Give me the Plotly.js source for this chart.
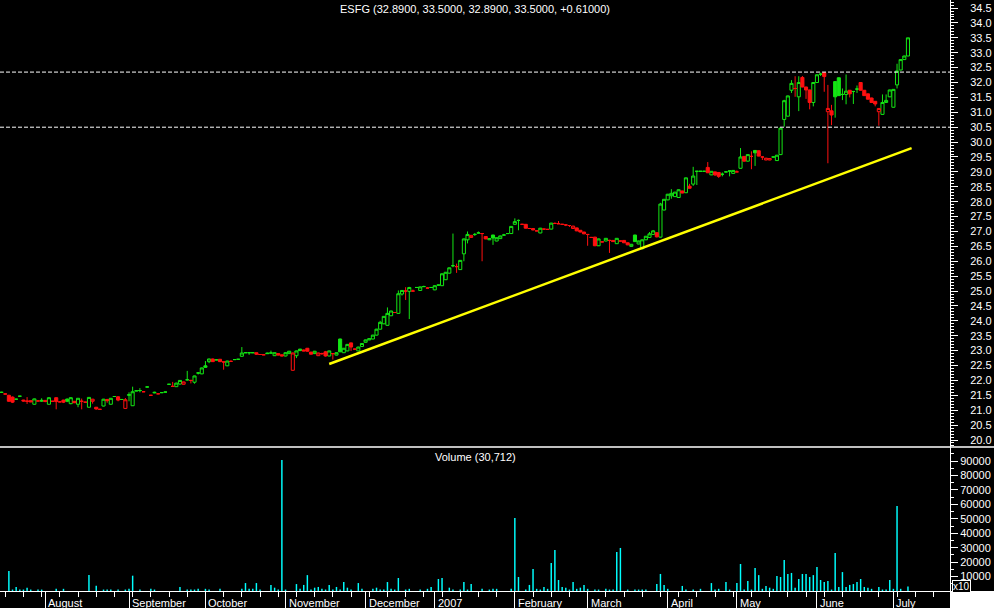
<!DOCTYPE html>
<html><head><meta charset="utf-8">
<script src="https://cdn.plot.ly/plotly-3.0.1.min.js"></script>
<style>html,body{margin:0;padding:0;background:#000;}#chart{width:994px;height:608px;}</style>
</head><body><div id="chart"></div>
<script>
// ---- data ----
const openP = [
21.60,21.55,21.50,21.44,21.37,21.47,21.34,21.31,21.32,21.20,
21.31,21.30,21.33,21.20,21.30,21.42,21.28,21.34,21.37,21.22,
21.30,21.20,21.30,21.27,21.10,21.30,21.10,21.03,21.14,21.36,
21.20,21.46,21.45,21.36,21.06,21.50,21.15,21.65,21.66,21.62,
21.78,21.50,21.58,21.55,21.59,21.61,21.87,21.80,21.79,21.88,
21.87,22.02,22.00,21.94,22.25,22.22,22.49,22.63,22.72,22.69,
22.71,22.62,22.49,22.64,22.70,22.71,22.81,22.93,22.93,22.93,
22.93,22.87,22.86,22.92,22.92,22.83,22.90,22.86,22.82,22.90,
22.34,22.83,23.05,23.02,23.08,22.95,22.90,22.83,22.90,22.96,
22.82,22.90,22.85,23.39,22.93,22.99,23.26,23.05,22.99,23.14,
23.28,23.36,23.39,23.52,23.72,23.90,23.85,24.17,24.28,24.25,
24.90,25.00,24.99,25.00,25.12,25.02,25.15,25.10,25.12,25.04,
25.20,25.18,25.38,25.60,25.85,25.82,25.72,26.25,26.72,26.80,
26.90,26.95,26.93,26.83,26.72,26.88,26.68,26.76,26.88,26.93,
26.93,27.24,27.37,27.24,27.24,27.10,27.10,27.02,26.95,27.08,
27.07,27.08,27.27,27.26,27.24,27.22,27.20,27.10,27.12,27.04,
26.98,26.90,26.80,26.81,26.52,26.65,26.68,26.70,26.70,26.59,
26.68,26.70,26.62,26.50,26.88,26.58,26.42,26.72,26.80,26.90,
26.96,26.81,27.72,28.06,28.20,28.17,28.14,28.36,28.30,28.52,
28.59,29.02,29.02,29.02,29.15,28.90,29.00,28.98,28.92,29.00,
29.03,28.95,29.00,29.12,29.52,29.36,29.52,29.72,29.71,29.50,
29.40,29.40,29.50,29.38,29.58,30.76,30.87,31.74,31.80,31.52,
32.17,31.85,31.75,31.33,32.00,32.28,32.33,31.02,31.05,32.03,
32.16,31.60,31.60,31.74,31.70,31.78,32.00,31.74,31.62,31.48,
31.37,31.02,30.93,31.33,31.52,31.17,31.92,32.42,32.77,32.89];
const highP = [
21.62,21.56,21.52,21.46,21.38,21.48,21.35,21.44,21.33,21.39,
21.32,21.40,21.34,21.43,21.31,21.43,21.29,21.35,21.40,21.43,
21.31,21.41,21.39,21.28,21.44,21.38,21.11,21.04,21.38,21.38,
21.41,21.47,21.47,21.37,21.41,21.60,21.79,21.66,21.74,21.63,
21.79,21.51,21.62,21.56,21.60,21.62,21.88,21.95,21.92,22.01,
21.96,22.32,22.01,22.16,22.28,22.43,22.65,22.73,22.73,22.70,
22.72,22.63,22.66,22.67,22.71,22.72,23.12,22.94,22.94,22.94,
22.94,22.88,22.87,22.93,23.00,22.94,22.91,22.87,22.94,22.99,
22.93,23.00,23.06,23.04,23.09,22.96,22.99,22.93,22.93,22.99,
23.00,22.91,22.94,23.40,23.09,23.22,23.27,23.06,23.13,23.25,
23.37,23.41,23.53,23.73,24.00,24.16,24.45,24.34,24.29,25.02,
25.03,25.13,25.14,25.05,25.13,25.15,25.18,25.13,25.13,25.19,
25.21,25.59,25.64,25.79,26.93,25.92,26.04,26.76,27.00,26.88,
26.95,27.00,26.95,26.84,26.77,26.89,26.80,26.86,26.92,26.94,
27.18,27.44,27.40,27.25,27.25,27.11,27.11,27.03,27.12,27.09,
27.08,27.29,27.30,27.35,27.25,27.23,27.21,27.19,27.13,27.05,
26.99,26.91,26.81,26.82,26.76,26.66,26.78,26.72,26.71,26.78,
26.69,26.71,26.63,26.58,26.89,26.69,26.73,26.85,26.98,27.05,
26.97,27.96,28.09,28.26,28.42,28.33,28.41,28.37,28.81,28.60,
29.17,29.03,29.03,29.03,29.33,29.03,29.01,28.99,28.98,29.01,
29.04,29.06,29.05,29.80,29.53,29.59,29.69,29.73,29.72,29.51,
29.47,29.46,29.51,29.57,30.48,31.42,31.56,32.08,32.21,32.21,
32.22,31.86,31.76,32.01,32.27,32.33,32.34,31.92,31.25,32.04,
32.17,31.80,32.27,31.75,31.71,31.90,32.01,31.75,31.63,31.49,
31.38,31.14,31.60,31.60,31.76,31.78,32.63,32.78,32.90,33.50];
const lowP = [
21.58,21.53,21.28,21.24,21.36,21.46,21.29,21.21,21.27,21.19,
21.30,21.28,21.27,21.19,21.29,21.03,21.27,21.24,21.27,21.20,
21.24,21.10,21.03,21.26,21.09,21.22,21.02,21.02,21.13,21.25,
21.19,21.45,21.30,21.35,21.05,21.30,21.14,21.64,21.60,21.61,
21.77,21.49,21.57,21.54,21.58,21.60,21.86,21.78,21.78,21.86,
21.86,22.00,21.90,21.89,22.20,22.21,22.43,22.58,22.62,22.68,
22.62,22.36,22.48,22.63,22.69,22.70,22.80,22.92,22.86,22.92,
22.86,22.86,22.85,22.89,22.91,22.82,22.84,22.81,22.81,22.89,
22.33,22.75,22.99,22.98,22.97,22.87,22.89,22.82,22.86,22.80,
22.81,22.70,22.84,22.95,22.92,22.98,22.99,23.04,22.98,23.13,
23.27,23.35,23.38,23.51,23.71,23.89,23.84,24.16,24.27,24.24,
24.85,24.70,24.06,24.99,25.11,25.01,25.14,25.09,25.11,25.03,
25.19,25.17,25.37,25.59,25.80,25.61,25.71,26.00,26.60,26.79,
26.85,26.94,26.00,26.74,26.71,26.55,26.67,26.75,26.87,26.92,
26.92,27.23,27.04,27.23,27.10,27.09,27.04,27.01,26.94,27.07,
27.06,27.07,27.26,27.25,27.23,27.18,27.15,27.09,27.01,26.97,
26.91,26.52,26.79,26.51,26.51,26.64,26.67,26.28,26.65,26.58,
26.67,26.61,26.54,26.49,26.65,26.57,26.40,26.71,26.79,26.89,
26.80,26.80,27.71,28.05,28.10,28.16,28.13,28.28,28.29,28.44,
28.53,28.56,29.01,29.01,28.96,28.89,28.86,28.80,28.85,28.99,
28.85,28.94,28.99,29.11,29.35,29.35,29.09,29.20,29.52,29.40,
29.39,29.39,29.49,29.37,29.57,30.52,30.86,31.65,31.52,31.04,
31.84,31.45,31.10,31.20,31.99,32.22,31.69,29.29,30.57,30.82,
31.55,31.41,31.27,31.50,31.28,31.65,31.73,31.55,31.43,31.32,
31.20,30.55,30.92,31.32,31.51,31.16,31.80,32.41,32.76,32.89];
const closeP = [
21.60,21.54,21.30,21.27,21.37,21.47,21.31,21.30,21.28,21.38,
21.31,21.33,21.29,21.42,21.30,21.29,21.28,21.27,21.30,21.42,
21.25,21.40,21.30,21.27,21.43,21.37,21.04,21.03,21.37,21.32,
21.40,21.46,21.34,21.36,21.35,21.52,21.62,21.65,21.66,21.62,
21.78,21.50,21.60,21.55,21.59,21.61,21.87,21.80,21.91,22.00,
21.95,22.02,22.00,22.15,22.25,22.42,22.44,22.72,22.63,22.69,
22.63,22.62,22.65,22.64,22.70,22.71,22.92,22.93,22.93,22.93,
22.88,22.87,22.86,22.90,22.92,22.93,22.85,22.82,22.93,22.98,
22.92,22.99,23.00,22.99,22.98,22.88,22.98,22.92,22.90,22.82,
22.99,22.90,22.93,22.96,23.08,23.21,23.12,23.05,23.12,23.24,
23.36,23.40,23.52,23.72,23.95,24.15,24.25,24.33,24.28,24.91,
25.02,25.00,25.12,25.00,25.12,25.14,25.15,25.10,25.12,25.18,
25.20,25.58,25.63,25.78,25.85,25.82,26.03,26.75,26.90,26.87,
26.90,26.95,26.93,26.75,26.76,26.78,26.79,26.85,26.88,26.93,
27.17,27.33,27.37,27.24,27.11,27.10,27.05,27.02,27.11,27.08,
27.07,27.28,27.27,27.26,27.24,27.22,27.20,27.18,27.02,26.98,
26.92,26.90,26.80,26.52,26.75,26.65,26.77,26.70,26.66,26.77,
26.68,26.62,26.55,26.57,26.66,26.68,26.72,26.84,26.92,27.02,
26.82,27.92,28.08,28.25,28.28,28.32,28.40,28.29,28.80,28.45,
28.86,29.02,29.02,29.02,28.97,29.02,28.90,28.85,28.92,29.00,
29.03,29.05,29.00,29.50,29.36,29.58,29.52,29.64,29.53,29.50,
29.46,29.45,29.50,29.56,30.47,31.39,31.55,31.97,31.80,32.00,
31.85,31.75,31.33,32.00,32.26,32.28,32.20,31.13,30.91,31.52,
31.56,31.60,31.71,31.62,31.70,31.78,31.74,31.56,31.44,31.33,
31.28,31.13,31.33,31.40,31.75,31.77,32.39,32.77,32.89,33.50];
const volume = [
0,0,13800,1000,2800,1000,1000,2300,1000,0,
1000,1000,0,0,0,1500,0,1500,0,0,
0,0,0,0,11000,0,3700,0,1000,1000,
1000,0,1000,0,1000,1500,10600,0,1000,0,
0,1500,1000,0,0,0,0,0,0,2800,
0,1000,1000,1000,1500,0,1500,1000,0,0,
1500,0,0,0,0,0,1500,5500,1500,1500,
5500,1000,0,0,4200,2300,1000,90700,1000,0,
0,4800,1500,4200,11000,1000,2300,2800,1500,1000,
4200,1000,2800,1000,6200,2300,1000,0,5500,1500,
0,0,1500,2300,1000,1000,6200,1500,1000,9000,
0,1000,1500,0,0,1000,0,1500,2800,0,
8300,9000,0,2300,1000,0,1000,6200,1000,4800,
0,0,1500,0,1000,1500,1500,0,0,0,
1500,50500,9700,0,1000,4200,15200,1500,1000,2800,
1500,19400,28400,7600,2800,2300,1000,6200,1500,2300,
4200,1500,0,1000,1000,0,1500,1000,1000,27000,
29800,0,1000,0,1000,1000,1000,1000,0,0,
4800,11800,4200,1500,0,0,0,3500,1000,0,
1000,0,1500,0,0,5500,1000,1500,0,6200,
1000,0,5500,18700,1000,6900,1000,15900,11000,1500,
3500,2300,1500,10400,9700,21500,11800,12500,2300,8300,
11800,11800,9700,11000,16600,7600,6200,6900,1000,26300,
2800,13100,2800,4200,4800,6200,8300,2800,2300,1500,
0,2800,1000,1000,7600,1500,58900,1500,0,3071];
const monthLabels = ['August','September','October','November','December','2007','February','March','April','May','June','July'];
const monthStart = [12,35,56,78,100,119,141,161,183,202,224,245];
const trendX = [90, 250];
const trendY = [22.55, 29.80];
const levels = [32.35, 30.50];
const priceTicks = [20.0,20.5,21.0,21.5,22.0,22.5,23.0,23.5,24.0,24.5,25.0,25.5,26.0,26.5,27.0,27.5,28.0,28.5,29.0,29.5,30.0,30.5,31.0,31.5,32.0,32.5,33.0,33.5,34.0,34.5];
const volTicks = [10000,20000,30000,40000,50000,60000,70000,80000,90000];
const titleText = 'ESFG (32.8900, 33.5000, 32.8900, 33.5000, +0.61000)';
const volumeText = 'Volume (30,712)';
const scaleText = 'x10';

// ---- build ----
const GREEN = '#14e614', RED = '#ff1010', CYAN = '#00ffff', WHITE = '#ffffff';
const FONT = 'Liberation Sans, Arial, sans-serif';
const days = openP.map((_, i) => i);
const g = {x:[],o:[],h:[],l:[],c:[]}, r = {x:[],o:[],h:[],l:[],c:[]};
days.forEach(i => {
  const up = i === 0 || closeP[i] >= closeP[i-1];
  const t = up ? g : r;
  t.x.push(i); t.o.push(openP[i]); t.h.push(highP[i]); t.l.push(lowP[i]); t.c.push(closeP[i]);
});
function candle(d, col) {
  return {type:'candlestick', x:d.x, open:d.o, high:d.h, low:d.l, close:d.c,
    xaxis:'x', yaxis:'y', whiskerwidth:0, hoverinfo:'skip', showlegend:false,
    increasing:{line:{color:col, width:1}, fillcolor:'#000000'},
    decreasing:{line:{color:col, width:1}, fillcolor:col}};
}
const traces = [
  {type:'bar', x:days, y:volume, xaxis:'x', yaxis:'y2', width:0.4,
   marker:{color:CYAN, line:{width:0}}, hoverinfo:'skip', showlegend:false},
  candle(g, GREEN), candle(r, RED),
  {type:'scatter', mode:'lines', x:trendX, y:trendY, xaxis:'x', yaxis:'y',
   line:{color:'#ffff00', width:2.5}, hoverinfo:'skip', showlegend:false}
];

const H = 591, split = (H - 447) / H;
const shapes = levels.map(v => ({type:'line', xref:'paper', x0:0, x1:1, yref:'y', y0:v, y1:v,
  line:{color:WHITE, width:1, dash:'4px,2px'}}));
shapes.push({type:'line', xref:'paper', x0:0, x1:994/950, yref:'paper', y0:split, y1:split, line:{color:WHITE, width:1.5}});
shapes.push({type:'rect', xref:'paper', x0:1, x1:994/950, yref:'paper', y0:-17/H, y1:0, fillcolor:WHITE, line:{width:0}});

const annotations = [
  {text:titleText, xref:'paper', x:0.5, yref:'paper', y:1 - 9/H, yanchor:'middle', showarrow:false, font:{family:FONT, size:11, color:WHITE}},
  {text:volumeText, xref:'paper', x:0.5, yref:'paper', y:(H - 457)/H, yanchor:'middle', showarrow:false, font:{family:FONT, size:11, color:WHITE}},
  {text:scaleText, xref:'paper', x:952/950, xanchor:'left', yref:'paper', y:(H - 586)/H, yanchor:'middle', showarrow:false,
   bgcolor:'#000000', bordercolor:WHITE, borderwidth:1, borderpad:0, font:{family:FONT, size:10, color:WHITE}}
];
monthLabels.forEach((m, i) => annotations.push({text:m, xref:'x', x:monthStart[i], xanchor:'left', xshift:1,
  yref:'paper', y:-12/H, yanchor:'middle', showarrow:false, font:{family:FONT, size:11, color:WHITE}}));

const tickStyle = {ticks:'outside', ticklen:7, tickcolor:WHITE, tickwidth:1, showline:true, linecolor:WHITE, linewidth:1,
  showgrid:false, zeroline:false, tickfont:{family:FONT, size:11, color:WHITE}};
const layout = {
  width:994, height:608, margin:{l:0, r:44, t:0, b:17, pad:0},
  paper_bgcolor:'#000000', plot_bgcolor:'#000000', showlegend:false,
  boxmode:'overlay', boxgap:0.15, boxgroupgap:0,
  xaxis:{range:[-0.44, 260.55], anchor:'y2', showgrid:false, zeroline:false, showline:true, linecolor:WHITE, linewidth:1,
    tickmode:'array', tickvals:monthStart, ticktext:monthStart.map(() => ''), ticks:'outside', ticklen:17, tickcolor:WHITE, tickwidth:1,
    minor:{tick0:1, dtick:5, ticks:'outside', ticklen:5, tickcolor:WHITE, tickwidth:1, showgrid:false},
    rangeslider:{visible:false}, fixedrange:true},
  yaxis:Object.assign({}, tickStyle, {domain:[split, 1], range:[19.765, 34.77], side:'right', anchor:'x',
    tickmode:'array', tickvals:priceTicks, ticktext:priceTicks.map(v => v.toFixed(1)), ticklabelstandoff:10,
    minor:{tick0:20, dtick:0.1, ticks:'outside', ticklen:3, tickcolor:WHITE, tickwidth:1, showgrid:false}}),
  yaxis2:Object.assign({}, tickStyle, {domain:[0, split], range:[0, 99700], side:'right', anchor:'x',
    tickmode:'array', tickvals:volTicks, ticktext:volTicks.map(String), ticklabelstandoff:0,
    minor:{tick0:0, dtick:5000, ticks:'outside', ticklen:3, tickcolor:WHITE, tickwidth:1, showgrid:false}}),
  shapes:shapes, annotations:annotations
};
Plotly.newPlot('chart', traces, layout, {staticPlot:true, displayModeBar:false});
</script></body></html>
